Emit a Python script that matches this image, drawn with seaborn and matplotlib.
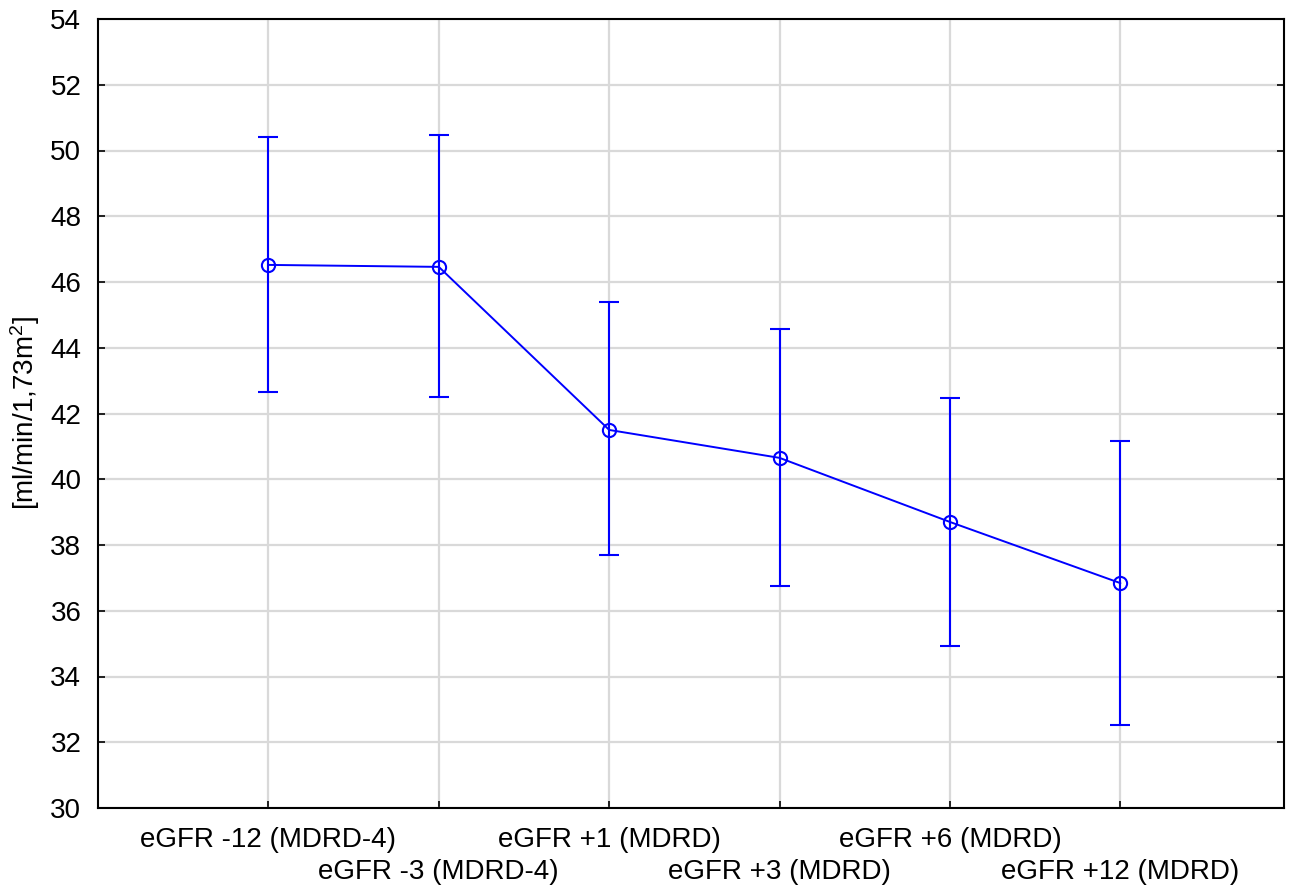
import matplotlib
matplotlib.use("Agg")
import matplotlib.pyplot as plt
import seaborn as sns
import pandas as pd
import numpy as np

categories = ["eGFR -12 (MDRD-4)", "eGFR -3 (MDRD-4)", "eGFR +1 (MDRD)",
              "eGFR +3 (MDRD)", "eGFR +6 (MDRD)", "eGFR +12 (MDRD)"]
means = [46.52, 46.46, 41.50, 40.65, 38.70, 36.84]
upper = [50.41, 50.47, 45.39, 44.57, 42.47, 41.16]
lower = [42.65, 42.50, 37.70, 36.75, 34.93, 32.52]
y_ticks = list(range(30, 56, 2))
y_label = r"[ml/min/1,73m$^2$]"

sns.set_style("white")
plt.rcParams['font.family'] = ['Liberation Sans', 'DejaVu Sans']
plt.rcParams['mathtext.fontset'] = 'custom'
plt.rcParams['mathtext.rm'] = 'Liberation Sans'
plt.rcParams['mathtext.it'] = 'Liberation Sans'
plt.rcParams['text.color'] = 'black'
plt.rcParams['axes.labelcolor'] = 'black'
plt.rcParams['xtick.color'] = 'black'
plt.rcParams['ytick.color'] = 'black'

fig = plt.figure(figsize=(12.96, 8.90), dpi=100)
ax = fig.add_axes([98/1296, (890-808)/890, (1284-98)/1296, (808-19)/890])

df = pd.DataFrame({"x": np.arange(len(categories)), "mean": means,
                   "lo": lower, "hi": upper})

blue = "#0000ff"
ax.errorbar(df["x"], df["mean"],
            yerr=[df["mean"] - df["lo"], df["hi"] - df["mean"]],
            fmt="none", ecolor=blue, elinewidth=1.5, capsize=7, capthick=1.5, zorder=3)
sns.lineplot(data=df, x="x", y="mean", ax=ax, color=blue, linewidth=1.4,
             marker="o", markersize=9.5, markerfacecolor="none",
             markeredgecolor=blue, markeredgewidth=1.5, zorder=4)

ax.set_xlim(-1.0, 5.96)
ax.set_ylim(30, 54)
ax.set_yticks(y_ticks)
ax.set_xticks(df["x"])
ax.set_xticklabels(categories, fontsize=20)
ax.tick_params(axis="y", labelsize=20)
ax.tick_params(direction="in", length=5, width=1.2,
               left=True, right=True, bottom=True, top=False)
ax.tick_params(axis="y", pad=12)
ax.tick_params(axis="x", pad=14)
for i, t in enumerate(ax.xaxis.get_major_ticks()):
    if i % 2 == 1:
        t.set_pad(14 + 23)
ax.grid(True, color="#d9d9d9", linewidth=1.6)
ax.set_axisbelow(True)
for s in ax.spines.values():
    s.set_visible(True)
    s.set_color("black")
    s.set_linewidth(1.5)
ax.set_xlabel("")
ax.set_ylabel(y_label, fontsize=20, labelpad=6)

fig.savefig("out.png", dpi=100)
